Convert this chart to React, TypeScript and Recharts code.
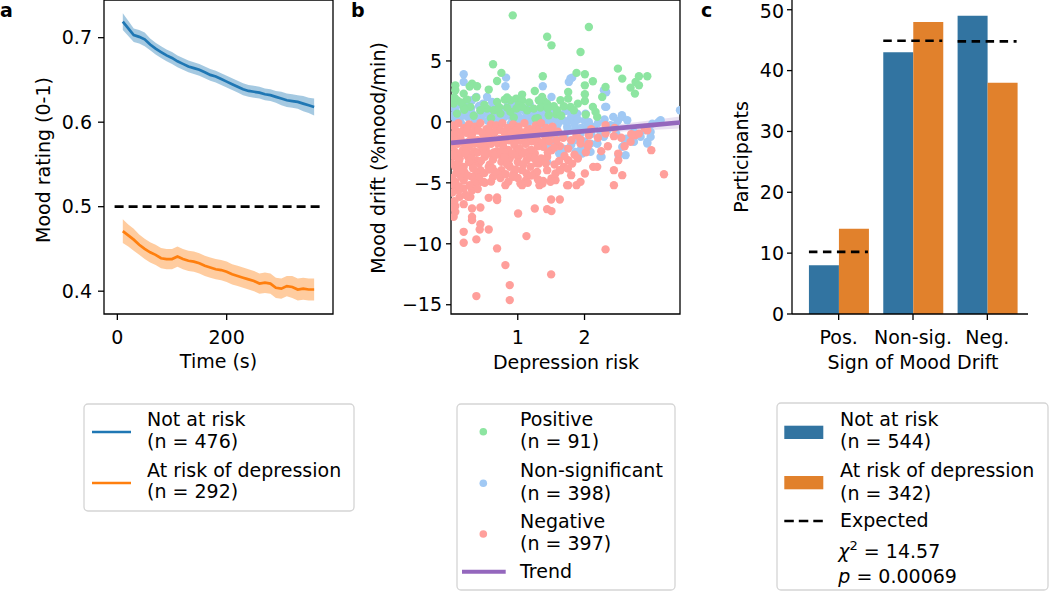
import {
  ComposedChart,
  BarChart,
  Bar,
  Line,
  Area,
  Scatter,
  XAxis,
  YAxis,
  ReferenceLine,
  ReferenceArea,
} from 'recharts'

const FONT = '"DejaVu Sans", sans-serif'
const FS = 19

// --- panel a: mood over time ---
const times = [10, 20, 30, 40, 50, 60, 70, 80, 90, 100, 110, 120, 130, 140, 150, 160, 170, 180, 190, 200, 210, 220, 230, 240, 250, 260, 270, 280, 290, 300, 310, 320, 330, 340, 350, 360]
const notAtRiskMood = [0.719, 0.711, 0.703, 0.701, 0.698, 0.692, 0.687, 0.683, 0.679, 0.676, 0.672, 0.669, 0.666, 0.664, 0.662, 0.659, 0.656, 0.654, 0.651, 0.648, 0.645, 0.642, 0.639, 0.637, 0.636, 0.635, 0.633, 0.632, 0.63, 0.628, 0.626, 0.625, 0.624, 0.622, 0.62, 0.618]
const notAtRiskErr = [0.01, 0.009, 0.008, 0.008, 0.008, 0.007, 0.007, 0.007, 0.007, 0.007, 0.007, 0.007, 0.007, 0.007, 0.007, 0.007, 0.007, 0.007, 0.007, 0.007, 0.007, 0.007, 0.007, 0.007, 0.007, 0.007, 0.007, 0.007, 0.007, 0.008, 0.008, 0.008, 0.008, 0.009, 0.009, 0.01]
const atRiskMood = [0.471, 0.466, 0.461, 0.455, 0.45, 0.446, 0.443, 0.439, 0.438, 0.438, 0.441, 0.438, 0.436, 0.435, 0.433, 0.43, 0.428, 0.426, 0.425, 0.423, 0.42, 0.418, 0.416, 0.414, 0.412, 0.409, 0.41, 0.409, 0.404, 0.403, 0.406, 0.405, 0.402, 0.403, 0.402, 0.402]
const atRiskErr = [0.014, 0.013, 0.013, 0.012, 0.012, 0.012, 0.012, 0.012, 0.012, 0.012, 0.012, 0.012, 0.012, 0.012, 0.012, 0.012, 0.012, 0.012, 0.012, 0.012, 0.012, 0.012, 0.012, 0.012, 0.012, 0.012, 0.012, 0.012, 0.012, 0.012, 0.012, 0.013, 0.013, 0.013, 0.013, 0.013]

// --- panel b: mood drift vs depression risk, [risk, drift] ---
const positivePts = [
  [0.925, 8.74], [2.065, 7.79], [1.44, 6.99], [1.505, 6.28], [1.94, 5.74], [2.5, 4.37], [2.565, 3.55], [0.63, 4.73], [0.755, 4.02], [0.69, 3.36],
  [0.065, 3.0], [0.065, 2.6], [0.19, 2.32], [0.315, 3.14], [0.39, 2.92], [0.565, 2.65], [0.375, 2.0], [0.69, 1.64], [0.805, 1.83], [0.89, 1.78],
  [0.975, 1.91], [1.065, 2.24], [1.065, 1.78], [1.015, 1.37], [1.255, 2.54], [1.375, 3.74], [1.365, 2.05], [1.39, 1.72], [1.34, 1.17], [1.44, 1.5],
  [1.54, 1.28], [1.58, 0.63], [1.69, 1.28], [1.755, 2.46], [1.755, 1.91], [1.79, 1.23], [1.88, 4.02], [2.005, 3.91], [2.005, 3.0], [2.005, 2.27],
  [2.005, 1.72], [2.125, 3.33], [2.125, 1.23], [2.19, 0.41], [2.265, 2.05], [2.315, 2.87], [2.69, 2.81], [2.755, 2.32], [2.765, 3.28], [2.815, 3.74],
  [2.815, 3.0], [2.94, 3.74], [0.94, 0.36], [1.265, 0.27], [0.54, 1.09], [0.44, 0.96], [0.19, 1.23], [0.09, 0.68], [0.04, 1.5], [0.29, 1.23],
  [1.14, 0.96], [0.89, 0.82], [0.64, 0.96], [1.59, 0.96], [1.84, 0.96], [1.465, 0.55], [1.24, 1.09], [0.84, 1.17], [0.74, 0.68], [0.09, 1.78],
  [0.24, 1.83], [1.065, 1.23], [1.315, 1.78], [1.64, 1.78], [2.165, 0.82], [0.84, 2.0], [0.2, 1.0], [0.15, 1.6], [1.17, 1.6], [1.65, 0.5],
  [0.6, 0.3], [2.02, 0.6], [1.9, 1.5], [1.45, 1.1], [0.34, 0.5], [0.05, 2.0], [0.72, 1.2], [1.3, 0.3], [0.28, 2.9], [0.5, 1.4], [0.98, 1.1],
]
const nonSigPts = [
  [0.19, 3.91], [0.19, 3.28], [0.815, 2.92], [0.825, 3.63], [0.38, 2.05], [0.54, 2.05], [1.375, 2.92], [1.505, 2.05], [1.765, 3.28], [1.815, 3.63],
  [2.325, 2.43], [2.325, 1.23], [3.43, 0.96], [3.14, 0.14], [3.015, -0.14], [2.99, -0.82], [2.94, -1.78], [2.615, -2.73], [2.565, -2.05], [2.63, -1.37],
  [2.565, 0.41], [2.43, 0.41], [2.39, -0.27], [2.29, -1.23], [2.19, -1.78], [2.255, -2.87], [1.965, -2.6], [2.015, -2.46], [1.865, -2.46], [1.68, -2.54],
  [1.68, -2.19], [1.44, -3.28], [1.84, -1.5], [1.94, -0.96], [2.065, 0], [1.79, 0.14], [1.89, 0.68], [2.015, 0.68], [1.615, 0.55], [1.44, 0.68],
  [1.34, 0.41], [1.14, 0.55], [0.99, 0.55], [0.84, 0.68], [0.64, 0.68], [0.44, 0.82], [0.315, 0.68], [0.19, 0.96], [0.065, 0.96], [0.065, 0.27],
  [0.69, 0.27], [1.165, 0.27], [1.54, 0.27], [2.14, -0.41], [2.24, -0.82], [2.74, -0.82], [2.74, -1.64], [2.84, -1.23], [2.475, -0.96], [1.64, 0.14],
  [1.74, -0.41], [1.865, -0.55], [1.59, -0.68], [2.09, -1.78], [1.44, 0.14], [1.29, 0.96], [1.04, 1.23], [0.615, 1.64], [0.315, 1.78], [0.94, 0.27],
  [0.715, 1.23], [1.79, 3.56], [2.29, 2.6], [2.31, 1.23], [2.56, 0.55], [2.64, 0.14], [2.91, -0.68], [2.99, -1.23], [2.94, -1.64], [3.11, 0],
  [2.19, -1.77], [2.09, -2.46], [2.24, -2.87], [2.61, -1.64], [2.51, -2.73], [1.55, 0.3], [1.6, -0.2], [1.65, 0.6], [1.7, 0.1], [1.75, -0.6],
  [1.8, 0.4], [1.85, -0.2], [1.9, 0.2], [1.95, -0.5], [2.0, 0.1], [2.05, -0.3], [1.72, 0.9], [1.82, 0.8], [1.6, -0.9], [1.7, -1.2],
  [1.9, -1.3], [2.0, -1.6], [1.8, -1.9], [1.95, -2.2], [2.1, -1.0], [2.2, -0.1], [2.3, 0.2], [2.35, -0.6], [2.45, -0.3], [2.5, 0.1],
  [0.02, 0.5], [0.1, 1.4], [0.12, 0.2], [0.25, 0.4], [0.3, 1.1], [0.35, 0.2], [0.45, 0.4], [0.5, 1.2], [0.55, 0.1], [0.6, 0.5],
  [0.7, 0.8], [0.75, 0.1], [0.8, 0.4], [0.9, 1.0], [0.95, 0.1], [1.0, 0.8], [1.05, 0.2], [1.1, 1.1], [1.2, 0.6], [1.25, 0.1],
  [1.3, 0.5], [1.35, 1.2], [1.45, 0.4], [1.5, 0.9], [0.05, 1.9], [0.22, 1.6], [0.48, 1.5], [0.62, 1.1], [0.85, 1.3], [1.18, 1.4],
  [1.4, 1.6], [0.15, -0.1], [0.4, -0.05], [0.65, -0.1], [0.9, -0.1], [1.15, -0.15], [1.35, -0.2], [1.5, -0.5], [1.55, -1.5], [1.45, -2.0],
  [1.62, -2.6], [1.25, -0.6], [0.08, 0.7], [0.17, 0.5], [0.28, 0.8], [0.38, 0.3], [0.52, 0.7], [0.58, 0.9], [0.68, 0.5], [0.78, 1.0],
  [0.88, 0.5], [1.02, 0.4], [1.12, 0.8], [1.22, 0.3], [1.32, 0.8], [1.42, 1.0], [1.48, 0.15], [0.03, 1.2], [0.42, 1.3], [0.95, 1.4],
]
const negativePts = [
  [0.38, -14.29], [0.88, -14.62], [0.88, -13.39], [0.815, -11.75], [1.5, -12.51], [2.315, -10.46], [0.69, -10.38], [0.19, -9.92], [0.38, -9.64], [0.19, -9.02],
  [1.13, -9.37], [0.565, -8.83], [0.43, -8.83], [0.44, -8.39], [0.315, -8.06], [0.315, -7.79], [0.04, -7.79], [0.065, -7.38], [1.005, -7.51], [1.255, -7.1],
  [1.44, -7.16], [1.505, -7.32], [0.315, -7.1], [0.44, -7.02], [0.065, -6.91], [0.19, -6.75], [0.69, -6.42], [0.69, -6.2], [0.565, -6.23], [1.5, -6.37],
  [1.63, -6.37], [0.255, -6.15], [0.13, -6.15], [0.315, -5.6], [0.19, -5.46], [0.44, -4.92], [0.505, -5.0], [0.815, -5.19], [1.065, -5.19], [1.325, -5.19],
  [1.38, -4.84], [1.505, -4.64], [1.565, -4.78], [1.755, -5.19], [1.88, -5.19], [1.94, -4.92], [2.005, -4.23], [2.13, -3.69], [2.19, -3.69], [2.44, -5.19],
  [2.565, -4.37], [2.44, -3.96], [2.505, -3.14], [2.505, -2.6], [2.94, -0.68], [3.0, -2.32], [3.19, -4.29], [2.69, -1.64], [2.755, -1.09], [2.815, -0.96],
  [2.44, -1.17], [2.315, -0.96], [2.315, -0.27], [2.065, -1.09], [1.94, -1.45], [1.94, -1.78], [2.065, -1.78], [1.755, -2.19], [1.755, -3.14], [1.815, -3.42],
  [1.69, -3.69], [1.63, -3.96], [1.565, -4.23], [1.44, -3.96], [1.315, -3.42], [1.19, -3.69], [1.255, -4.23], [1.13, -4.23], [1.065, -3.96], [0.94, -4.23],
  [0.88, -3.69], [0.755, -3.96], [0.69, -4.23], [0.63, -4.51], [0.565, -3.69], [0.44, -3.96], [0.38, -4.23], [0.315, -4.51], [0.19, -4.78], [0.065, -4.92],
  [1.44, -2.87], [1.38, -2.05], [1.505, -2.32], [1.63, -1.99], [1.255, -2.6], [1.13, -3.14], [1.005, -2.87], [0.88, -3.01], [0.755, -3.28], [0.63, -3.09],
  [0.505, -2.87], [0.38, -3.14], [0.255, -2.87], [0.13, -3.01], [0.065, -3.69], [0.19, -3.69], [0.315, -3.42], [0.87, -3.55], [0.49, -4.92], [0.74, -4.37],
  [1.04, -5.05], [1.29, -4.1], [1.49, -4.92], [1.74, -5.19], [1.64, -3.96], [1.37, -5.05], [1.8, -4.37], [1.75, -3.82], [0.29, -6.15], [0.115, -5.6],
  [0.03, -0.3], [0.11, -0.1], [0.2, -0.5], [0.27, -0.2], [0.36, -0.4], [0.44, -0.1], [0.53, -0.6], [0.6, -0.2], [0.68, -0.3], [0.77, -0.1],
  [0.85, -0.5], [0.93, -0.2], [1.01, -0.4], [1.1, -0.1], [1.18, -0.6], [1.27, -0.3], [1.35, -0.1], [1.43, -0.5], [1.52, -0.4], [1.6, -0.8],
  [0.07, -0.7], [0.16, -0.8], [0.25, -0.65], [0.33, -0.85], [0.41, -0.7], [0.5, -0.9], [0.58, -0.75], [0.66, -0.8], [0.74, -0.65], [0.8, -0.85],
  [0.89, -0.75], [0.97, -0.7], [1.05, -0.85], [1.14, -0.7], [1.22, -0.9], [1.31, -0.7], [1.39, -0.8],
  [0.05, -1.0], [0.14, -1.3], [0.23, -0.9], [0.31, -1.2], [0.4, -1.5], [0.48, -1.0], [0.57, -1.3], [0.65, -0.9], [0.73, -1.4], [0.82, -1.1],
  [0.9, -0.9], [0.98, -1.3], [1.07, -1.0], [1.15, -1.4], [1.24, -1.1], [1.32, -0.9], [1.41, -1.2], [1.5, -1.0], [1.58, -1.5], [1.68, -1.3],
  [1.88, -1.1], [0.02, -1.5], [0.09, -1.6], [0.19, -1.7], [0.28, -1.55], [0.36, -1.75], [0.45, -1.6], [0.54, -1.7], [0.62, -1.55],
  [0.7, -1.75], [0.79, -1.6], [0.87, -1.5], [0.95, -1.7], [1.04, -1.55], [1.12, -1.75], [1.21, -1.6], [1.29, -1.5],
  [0.02, -2.0], [0.1, -1.8], [0.18, -2.3], [0.27, -2.0], [0.35, -2.4], [0.44, -1.9], [0.52, -2.2], [0.6, -1.8], [0.69, -2.4], [0.78, -2.0],
  [0.86, -2.3], [0.95, -1.9], [1.03, -2.2], [1.12, -1.8], [1.2, -2.3], [1.3, -2.0], [1.37, -1.7], [1.47, -1.6], [1.55, -2.1], [1.7, -2.8],
  [1.85, -2.7], [2.02, -2.5], [0.06, -2.45], [0.14, -2.6], [0.23, -2.4], [0.31, -2.65], [0.4, -2.5], [0.48, -2.4], [0.56, -2.6], [0.64, -2.5],
  [0.73, -2.7], [0.81, -2.55], [0.9, -2.7], [0.98, -2.45], [1.07, -2.6], [1.16, -2.45],
  [0.04, -2.8], [0.12, -3.2], [0.22, -2.6], [0.3, -3.0], [0.42, -3.4], [0.5, -2.6], [0.58, -3.5], [0.67, -2.7], [0.75, -2.5], [0.84, -3.5],
  [0.92, -2.6], [1.0, -3.3], [1.1, -2.5], [1.18, -2.9], [1.28, -3.4], [1.35, -3.0],
  [0.1, -3.6], [0.27, -3.3], [0.45, -3.2], [0.62, -3.8], [0.8, -2.9], [0.97, -3.9], [1.08, -3.5], [1.25, -3.0], [1.42, -3.4], [0.2, -4.1],
  [0.42, -4.6], [0.66, -4.1], [0.93, -4.5], [1.12, -4.8], [1.3, -4.7], [1.55, -3.5], [0.35, -5.0], [0.05, -5.2], [0.15, -4.5], [1.45, -2.5],
  [0.08, -4.2], [0.16, -3.9], [0.25, -4.4], [0.33, -3.8], [0.5, -4.2], [0.58, -3.9], [0.74, -4.6], [0.82, -4.3], [1.0, -4.6], [1.2, -4.4],
  [0.28, -5.2], [0.12, -5.3], [0.02, -5.8], [0.05, -6.5], [0.4, -5.5], [0.6, -4.9], [0.86, -4.9], [1.15, -5.0], [0.22, -6.0],
  [2.1, -0.6], [2.2, -1.3], [2.35, -2.0], [2.25, -2.4], [2.6, -2.0], [2.7, -1.0], [2.05, -2.0], [1.8, -1.5],
  [1.62, -3.2], [1.9, -3.0], [2.45, -0.5], [2.9, -0.5], [2.55, -1.3], [0.01, -3.4], [0.02, -4.6], [0.03, -7.0],
]
const trendX = [0, 1, 2, 3, 3.43]
const trendY = [-1.72, -1.23, -0.75, -0.26, -0.05]
const trendErr = [0.3, 0.17, 0.2, 0.4, 0.5]

// --- panel c: sign of mood drift (%) ---
const driftCats = ['Pos.', 'Non-sig.', 'Neg.']
const notAtRiskPct = [8, 43, 49]
const atRiskPct = [14, 48, 38]
const expectedPct = [10.2, 44.9, 44.8]

const tickStyle = { fontSize: FS, fill: '#000', fontFamily: FONT }
const tickLine = { stroke: '#000', strokeWidth: 1.3 }
const frameLine = { stroke: '#000', strokeWidth: 1.3 }

const BLUE = '#1f77b4'
const ORANGE = '#ff7f0e'
const PURPLE = '#9467bd'

function MoodPanel() {
  const rows = times.map((t, i) => ({
    t,
    notAtRisk: notAtRiskMood[i],
    notAtRiskBand: [notAtRiskMood[i] - notAtRiskErr[i], notAtRiskMood[i] + notAtRiskErr[i]],
    atRisk: atRiskMood[i],
    atRiskBand: [atRiskMood[i] - atRiskErr[i], atRiskMood[i] + atRiskErr[i]],
  }))
  return (
    <ComposedChart width={340} height={380} data={rows} margin={{ top: 0, right: 7, left: 0, bottom: 0 }}>
      <XAxis type="number" dataKey="t" domain={[-24.4, 394.5]} ticks={[0, 200]} height={66} axisLine={false}
        tickLine={tickLine} tickSize={6} tickMargin={11} tick={tickStyle} allowDataOverflow />
      <YAxis type="number" domain={[0.373, 0.7446]} ticks={[0.4, 0.5, 0.6, 0.7]} width={104} axisLine={false}
        tickLine={tickLine} tickSize={6} tickMargin={6} tick={tickStyle} allowDataOverflow
        tickFormatter={(v: number) => v.toFixed(1)} />
      <Area type="linear" dataKey="notAtRiskBand" stroke="none" fill={BLUE} fillOpacity={0.4} isAnimationActive={false} activeDot={false} />
      <Area type="linear" dataKey="atRiskBand" stroke="none" fill={ORANGE} fillOpacity={0.4} isAnimationActive={false} activeDot={false} />
      <Line type="linear" dataKey="notAtRisk" stroke={BLUE} strokeWidth={2.7} dot={false} activeDot={false} isAnimationActive={false} />
      <Line type="linear" dataKey="atRisk" stroke={ORANGE} strokeWidth={2.7} dot={false} activeDot={false} isAnimationActive={false} />
      <ReferenceLine segment={[{ x: -5, y: 0.5 }, { x: 377, y: 0.5 }]} stroke="#000" strokeWidth={2.7} strokeDasharray="9 5" />
      <ReferenceArea x1={-24.4} x2={394.5} y1={0.373} y2={0.7446} fill="none" {...frameLine} />
    </ComposedChart>
  )
}

const dot = (color: string) => (p: any) => <circle cx={p.cx} cy={p.cy} r={4.2} fill={color} />
const noDot = () => <g />

function DriftPanel() {
  const rows = trendX.map((x, i) => ({ x, band: [trendY[i] - trendErr[i], trendY[i] + trendErr[i]] }))
  const trendPts = trendX.map((x, i) => ({ x, y: trendY[i] }))
  const toXY = (pts: number[][]) => pts.map(([x, y]) => ({ x, y }))
  const minus = (v: number) => String(v).replace('-', '\u2212')
  return (
    <ComposedChart width={345} height={380} data={rows} margin={{ top: 0, right: 5, left: 0, bottom: 0 }}>
      <XAxis type="number" dataKey="x" domain={[0, 3.43]} ticks={[1, 2]} height={66} axisLine={false}
        tickLine={tickLine} tickSize={6} tickMargin={11} tick={tickStyle} allowDataOverflow />
      <YAxis type="number" domain={[-15.76, 10]} ticks={[-15, -10, -5, 0, 5]} width={111} axisLine={false}
        tickLine={tickLine} tickSize={5} tickMargin={4} tick={tickStyle} allowDataOverflow tickFormatter={minus} />
      <Area type="linear" dataKey="band" stroke="none" fill={PURPLE} fillOpacity={0.2} isAnimationActive={false} activeDot={false} />
      <Scatter data={toXY(nonSigPts)} dataKey="y" shape={dot('#a1c9f4')} isAnimationActive={false} />
      <Scatter data={toXY(positivePts)} dataKey="y" shape={dot('#8de5a1')} isAnimationActive={false} />
      <Scatter data={toXY(negativePts)} dataKey="y" shape={dot('#ff9f9b')} isAnimationActive={false} />
      <Scatter data={trendPts} dataKey="y" shape={noDot} line={{ stroke: PURPLE, strokeWidth: 4.7 }} lineType="joint" isAnimationActive={false} />
      <ReferenceArea x1={0} x2={3.43} y1={-15.76} y2={10} fill="none" {...frameLine} />
    </ComposedChart>
  )
}

const expectedShape = (p: any) => (
  <line x1={p.x} x2={p.x + p.width} y1={p.y} y2={p.y} stroke="#000" strokeWidth={2.7} strokeDasharray="8.5 5.5" />
)

function SignPanel() {
  const rows = driftCats.map((cat, i) => ({ cat, notAtRisk: notAtRiskPct[i], atRisk: atRiskPct[i], expected: expectedPct[i] }))
  const pad = { left: 9.5, right: 3.5 }
  return (
    <BarChart width={345} height={380} data={rows} margin={{ top: 0, right: 7, left: 0, bottom: 0 }} barCategoryGap="10%" barGap={0}>
      <XAxis dataKey="cat" padding={pad} height={66} axisLine={frameLine} tickLine={tickLine} tickSize={6}
        tickMargin={11} tick={tickStyle} interval={0} />
      <XAxis xAxisId="top" orientation="top" dataKey="cat" padding={pad} height={0} tick={false} tickLine={false} axisLine={frameLine} />
      <YAxis domain={[0, 51.6]} ticks={[0, 10, 20, 30, 40, 50]} width={102} axisLine={frameLine} tickLine={tickLine}
        tickSize={5} tickMargin={3} tick={tickStyle} allowDataOverflow />
      <YAxis yAxisId="right" orientation="right" width={0} tick={false} tickLine={false} axisLine={frameLine} />
      <Bar dataKey="notAtRisk" fill="#3274a1" isAnimationActive={false} />
      <Bar dataKey="atRisk" fill="#e1812c" isAnimationActive={false} />
      <Bar xAxisId="top" dataKey="expected" shape={expectedShape} isAnimationActive={false} />
    </BarChart>
  )
}

const txt = { fontFamily: FONT, fontSize: FS, fill: '#000' }
const box = { fill: '#fff', stroke: '#d5d5d5', strokeWidth: 1.3 }

function Overlay() {
  return (
    <svg width={1050} height={601} style={{ position: 'absolute', left: 0, top: 0, pointerEvents: 'none' }}>
      <g {...txt} fontWeight="bold">
        <text x={0} y={17}>a</text>
        <text x={351} y={17}>b</text>
        <text x={701} y={17}>c</text>
      </g>
      <g {...txt}>
        <text x={218.5} y={368} textAnchor="middle">Time (s)</text>
        <text x={566} y={369} textAnchor="middle">Depression risk</text>
        <text x={913} y={369} textAnchor="middle">Sign of Mood Drift</text>
        <text transform="translate(50,160) rotate(-90)" textAnchor="middle">Mood rating (0-1)</text>
        <text transform="translate(385,158) rotate(-90)" textAnchor="middle">Mood drift (%mood/min)</text>
        <text transform="translate(748,157) rotate(-90)" textAnchor="middle">Participants</text>
      </g>

      {/* legend a */}
      <rect x={84} y={404} width={270} height={107} rx={4} {...box} />
      <line x1={92} x2={131} y1={432} y2={432} stroke={BLUE} strokeWidth={2.7} />
      <line x1={92} x2={131} y1={483} y2={483} stroke={ORANGE} strokeWidth={2.7} />
      <g {...txt}>
        <text x={147} y={426}>Not at risk</text>
        <text x={147} y={447.5}>(n = 476)</text>
        <text x={147} y={477.3}>At risk of depression</text>
        <text x={147} y={498.3}>(n = 292)</text>
      </g>

      {/* legend b */}
      <rect x={457} y={404} width={218} height={186} rx={4} {...box} />
      <circle cx={483.3} cy={431.7} r={3.8} fill="#8de5a1" />
      <circle cx={483.3} cy={483.3} r={3.8} fill="#a1c9f4" />
      <circle cx={483.3} cy={534} r={3.8} fill="#ff9f9b" />
      <line x1={462} x2={505.7} y1={571.7} y2={571.7} stroke={PURPLE} strokeWidth={4} />
      <g {...txt}>
        <text x={520} y={426}>Positive</text>
        <text x={520} y={448.3}>(n = 91)</text>
        <text x={520} y={477.3}>Non-significant</text>
        <text x={520} y={500}>(n = 398)</text>
        <text x={520} y={528.3}>Negative</text>
        <text x={520} y={550}>(n = 397)</text>
        <text x={520} y={578.3}>Trend</text>
      </g>

      {/* legend c */}
      <rect x={777} y={403} width={271} height={187} rx={4} {...box} />
      <rect x={784.3} y={425.7} width={39} height={13.3} fill="#3274a1" />
      <rect x={784.3} y={476} width={39} height={13.3} fill="#e1812c" />
      <line x1={784.3} x2={823.3} y1={521} y2={521} stroke="#000" strokeWidth={2.7} strokeDasharray="9.5 5" />
      <g {...txt}>
        <text x={840} y={426}>Not at risk</text>
        <text x={840} y={448.3}>(n = 544)</text>
        <text x={840} y={477.3}>At risk of depression</text>
        <text x={840} y={500}>(n = 342)</text>
        <text x={840} y={527.3}>Expected</text>
        <text x={838.3} y={558.3}>
          <tspan fontStyle="italic">χ</tspan>
          <tspan dy={-8} fontSize={13}>2</tspan>
          <tspan dy={8}> = 14.57</tspan>
        </text>
        <text x={838.3} y={583.3}>
          <tspan fontStyle="italic">p</tspan> = 0.00069
        </text>
      </g>
    </svg>
  )
}

export default function App() {
  return (
    <div style={{ position: 'absolute', left: 0, top: 0, width: 1050, height: 601, background: '#fff' }}>
      <div style={{ position: 'absolute', left: 0, top: 0 }}>
        <MoodPanel />
      </div>
      <div style={{ position: 'absolute', left: 340, top: 0 }}>
        <DriftPanel />
      </div>
      <div style={{ position: 'absolute', left: 690, top: 0 }}>
        <SignPanel />
      </div>
      <Overlay />
    </div>
  )
}
